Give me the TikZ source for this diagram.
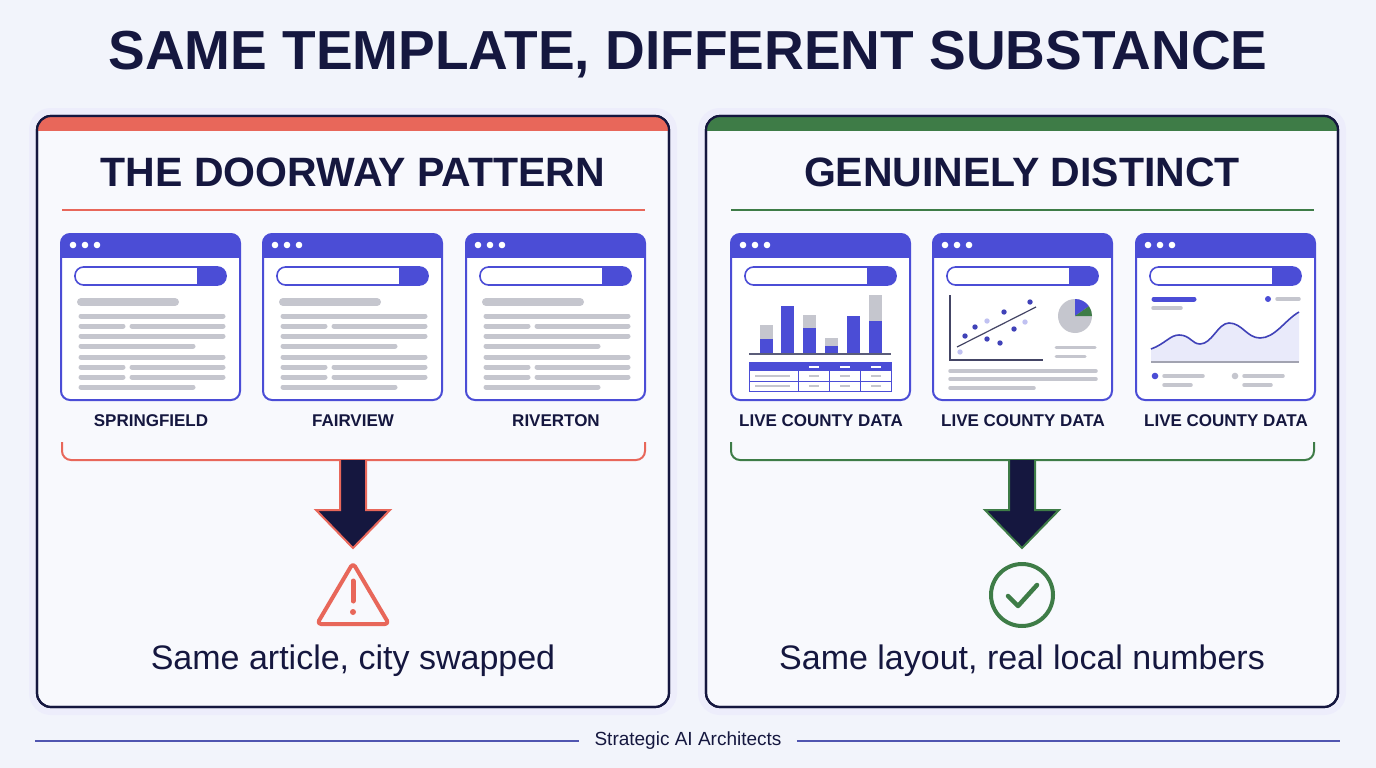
\documentclass[tikz,border=0pt]{standalone}
\usepackage{fontspec}
\setmainfont{Liberation Sans}
\usetikzlibrary{positioning, calc}

\definecolor{navy}{HTML}{15173F}
\definecolor{brand}{HTML}{4B4DD6}
\definecolor{bar}{HTML}{C5C6CE}
\definecolor{warn}{HTML}{E8675A}
\definecolor{okay}{HTML}{3E7C47}
\definecolor{paper}{HTML}{F2F4FB}
\definecolor{sheet}{HTML}{F8F9FD}
\definecolor{rule}{HTML}{5055B0}

\tikzset{
  panel/.style={draw=navy, line width=2.2pt, rounded corners=14pt, fill=sheet},
  glow/.style={fill=brand!10, rounded corners=22pt},
  window/.style={draw=brand, line width=2pt, rounded corners=9pt, fill=white},
  line/.style={bar, line width=5pt, line cap=round},
  title/.style={text=navy, font=\fontsize{55}{60}\selectfont\bfseries},
  heading/.style={text=navy, font=\fontsize{41}{48}\selectfont\bfseries},
  caption/.style={text=navy, font=\fontsize{17}{22}\selectfont\bfseries},
  verdict/.style={text=navy, font=\fontsize{34}{40}\selectfont},
}

% frame of a browser window, placed by its top-left corner
\newcommand\browser[1]{%
  \begin{scope}[shift={#1}]
    \draw[window] (0,0) rectangle (179,166);
    \begin{scope}
      \clip[rounded corners=9pt] (0,0) rectangle (179,166);
      \fill[brand] (0,0) rectangle (179,24);
    \end{scope}
    \foreach \d in {12,24,36} \fill[white] (\d,11) circle (3.3pt);
    \begin{scope}
      \clip[rounded corners=8.5pt] (14,33) rectangle (165,51);
      \fill[brand] (136,33) rectangle (165,51);
    \end{scope}
    \draw[brand, line width=1.6pt, rounded corners=8.5pt] (14,33) rectangle (165,51);
  \end{scope}}

% article page of the doorway pattern
\newcommand\article[1]{%
  \begin{scope}[shift={#1}]
    \draw[bar, line width=8pt, line cap=round] (20,68) -- (114,68);
    \foreach \y in {82,102,123} \draw[line] (20,\y) -- (162,\y);
    \foreach \y in {92,133,143} {\draw[line] (20,\y) -- (62,\y); \draw[line] (71,\y) -- (162,\y);}
    \foreach \y in {112,153} \draw[line] (20,\y) -- (132,\y);
  \end{scope}}

\begin{document}
\begin{tikzpicture}[x=1pt, y=-1pt]
  \fill[paper] (0,0) rectangle (1376,768);

  \node[title] (head) at (688,55) {SAME TEMPLATE, DIFFERENT SUBSTANCE};

  % panels
  \foreach \x/\c in {37/warn, 706/okay} {
    \fill[glow] (\x-8,108) rectangle (\x+640,715);
    \draw[panel] (\x,116) rectangle (\x+632,707);
    \begin{scope}
      \clip[rounded corners=14pt] (\x,116) rectangle (\x+632,707);
      \fill[\c] (\x,116) rectangle (\x+632,131);
    \end{scope}
    \draw[panel, fill=none] (\x,116) rectangle (\x+632,707);
  }

  \node[heading] (left) at (353,172) {THE DOORWAY PATTERN};
  \node[heading] (right) at (1022,172) {GENUINELY DISTINCT};
  \draw[warn, line width=2pt] (62,210) -- (645,210);
  \draw[okay, line width=2pt] (731,210) -- (1314,210);

  % doorway pages
  \foreach \x/\t in {61/SPRINGFIELD, 263/FAIRVIEW, 466/RIVERTON} {
    \browser{(\x,234)}
    \article{(\x,234)}
    \node[caption] at (\x+90,421) {\t};
  }

  % distinct pages
  \foreach \x in {731,933,1136} {
    \browser{(\x,234)}
    \node[caption] at (\x+90,421) {LIVE COUNTY DATA};
  }

  % bar chart and table
  \foreach \c/\b/\g in {766/339/325, 787/306/306, 809/328/315, 831/346/338, 853/316/316, 875/321/295} {
    \fill[bar] (\c-6.5,\g) rectangle (\c+6.5,354);
    \fill[brand] (\c-6.5,\b) rectangle (\c+6.5,354);
  }
  \draw[navy!70, line width=1.3pt] (749,354) -- (891,354);
  \fill[brand] (749,362) rectangle (891,371);
  \draw[brand, line width=1pt] (749,362) rectangle (891,391) (749,381) -- (891,381);
  \foreach \x in {798,829,860} \draw[brand, line width=1pt] (\x,371) -- (\x,391);
  \foreach \x in {814,845,876} \draw[white, line width=2pt] (\x-5,366.5) -- (\x+5,366.5);
  \foreach \y in {376,386} {
    \draw[bar, line width=2pt] (755,\y) -- (790,\y);
    \foreach \x in {814,845,876} \draw[bar, line width=2pt] (\x-5,\y) -- (\x+5,\y);
  }

  % scatter and pie
  \draw[navy!80, line width=1.2pt] (950,295) -- (950,360) -- (1043,360);
  \draw[navy!80, line width=1.2pt] (957,347) -- (1036,307);
  \foreach \p in {(965,336),(975,327),(987,339),(1000,343),(1004,312),(1014,329),(1030,302)} \fill[brand!80!navy] \p circle (2.7pt);
  \foreach \p in {(960,352),(987,321),(1025,322)} \fill[brand!35] \p circle (2.7pt);
  \fill[bar] (1075,316) circle (17pt);
  \fill[brand] (1075,316) -- (1075,299) arc[start angle=90, end angle=35, radius=17pt] -- cycle;
  \fill[okay] (1075,316) -- ($(1075,316)+(35:17pt)$) arc[start angle=35, end angle=0, radius=17pt] -- cycle;
  \draw[line, line width=3pt] (1056,347) -- (1095,347);
  \draw[line, line width=3pt] (1056,356) -- (1085,356);
  \foreach \y in {371,379} \draw[line, line width=3.5pt] (950,\y) -- (1096,\y);
  \draw[line, line width=3.5pt] (950,388) -- (1034,388);

  % trend chart
  \draw[brand, line width=5pt, line cap=round] (1154,299) -- (1194,299);
  \draw[line, line width=3.5pt] (1153,308) -- (1181,308);
  \fill[brand] (1268,299) circle (3pt);
  \draw[line, line width=3.5pt] (1277,299) -- (1299,299);
  \fill[brand!12] (1151,349) .. controls (1165,344) and (1170,335) .. (1179,335)
    .. controls (1190,335) and (1192,344) .. (1200,344)
    .. controls (1212,344) and (1218,323) .. (1229,323)
    .. controls (1242,323) and (1247,338) .. (1260,338)
    .. controls (1275,338) and (1285,320) .. (1299,312) -- (1299,362) -- (1151,362) -- cycle;
  \draw[brand!80!navy, line width=1.6pt] (1151,349) .. controls (1165,344) and (1170,335) .. (1179,335)
    .. controls (1190,335) and (1192,344) .. (1200,344)
    .. controls (1212,344) and (1218,323) .. (1229,323)
    .. controls (1242,323) and (1247,338) .. (1260,338)
    .. controls (1275,338) and (1285,320) .. (1299,312);
  \draw[bar!80!navy, line width=1.2pt] (1151,362) -- (1299,362);
  \fill[brand] (1155,376) circle (3.3pt);
  \fill[bar] (1235,376) circle (3.3pt);
  \draw[line, line width=3.5pt] (1164,376) -- (1203,376) (1164,385) -- (1191,385);
  \draw[line, line width=3.5pt] (1244,376) -- (1283,376) (1244,385) -- (1271,385);

  % brackets
  \draw[warn, line width=2pt, rounded corners=9pt] (62,442) -- (62,460) -- (645,460) -- (645,442);
  \draw[okay, line width=2pt, rounded corners=9pt] (731,442) -- (731,460) -- (1314,460) -- (1314,442);

  % down arrows
  \foreach \m/\c in {353/warn, 1022/okay} {
    \coordinate (tip) at (\m,548);
    \draw[\c, fill=navy, line width=2pt, line join=miter]
      ($(tip)+(-13,-88)$) -- ($(tip)+(-13,-38)$) -- ($(tip)+(-37,-38)$) -- (tip)
      -- ($(tip)+(37,-38)$) -- ($(tip)+(13,-38)$) -- ($(tip)+(13,-88)$);
  }

  % outcome icons
  \draw[warn, line width=4pt, line join=round, rounded corners=4pt] (353,563) -- (389,624) -- (317,624) -- cycle;
  \draw[warn, line width=5pt, line cap=round] (353,581) -- (353,601);
  \fill[warn] (353,612) circle (3pt);
  \draw[okay, line width=4pt] (1022,595) circle (31pt);
  \draw[okay, line width=4.5pt, line cap=round, line join=round] (1008,596) -- (1018,606) -- (1037,585);

  \node[verdict] (lv) at (353,661) {Same article, city swapped};
  \node[verdict] (rv) at (1022,661) {Same layout, real local numbers};

  % footer
  \node[text=navy, font=\fontsize{19}{22}\selectfont] (brandname) at (688,741) {Strategic AI Architects};
  \draw[rule, line width=1.2pt] (35,741) -- ($(brandname.west)+(-12,0)$);
  \draw[rule, line width=1.2pt] ($(brandname.east)+(12,0)$) -- (1340,741);
\end{tikzpicture}
\end{document}
